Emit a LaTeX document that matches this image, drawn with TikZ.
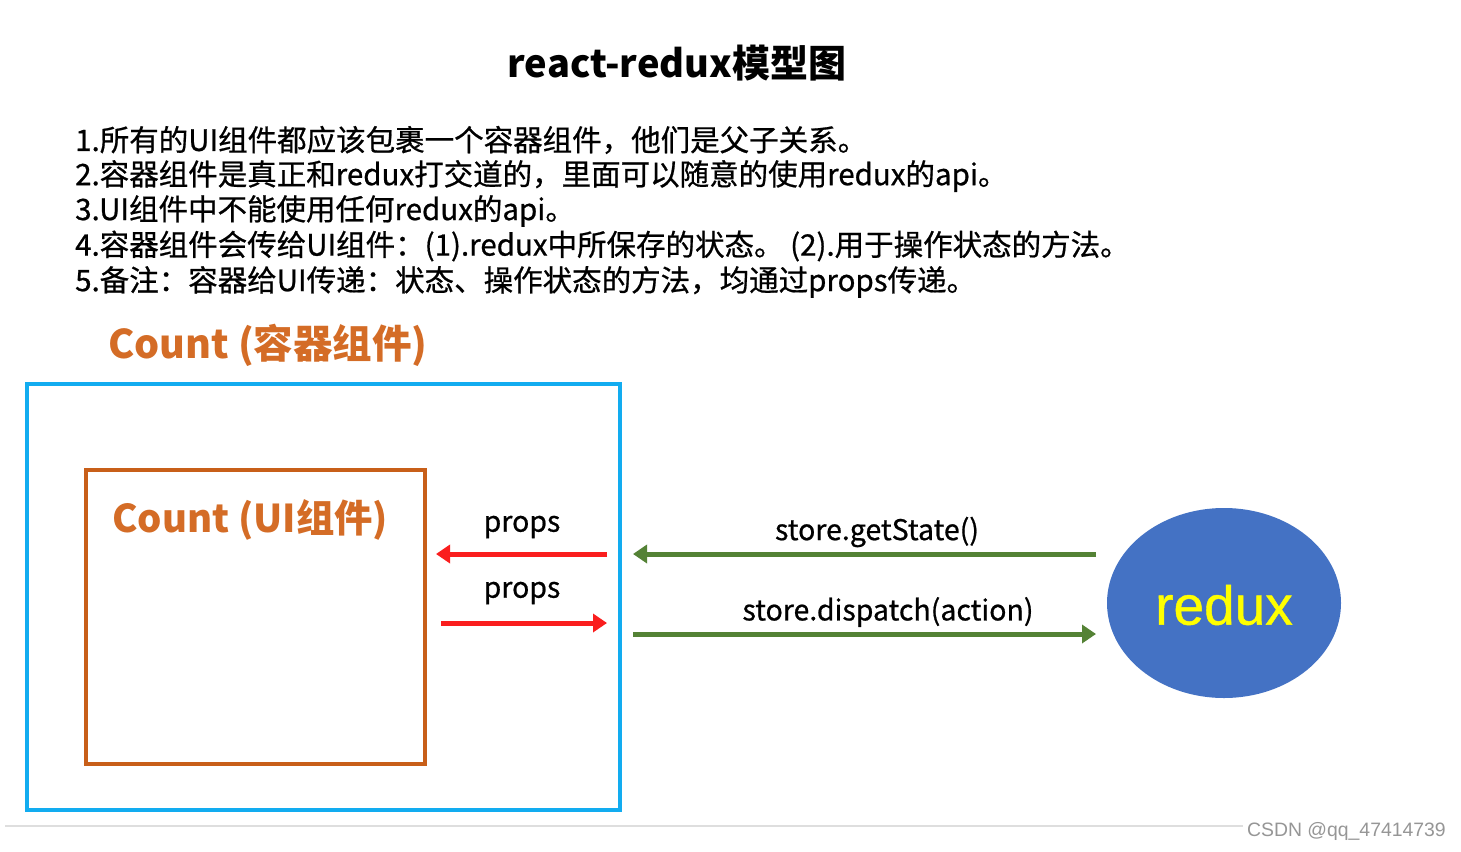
\documentclass[tikz,border=0pt]{standalone}
\usepackage{fontspec}
\setmainfont{Noto Sans CJK SC}
\newfontfamily\cjkfont{Noto Sans CJK SC}
\newfontfamily\cjkmed[FakeBold=0.7]{Noto Sans CJK SC}
\newfontfamily\arialfont{Liberation Sans}
\newfontfamily\arialmed[FakeBold=0.8]{Liberation Sans}
\usetikzlibrary{arrows.meta,shapes.geometric}
\definecolor{outerblue}{RGB}{18,172,240}
\definecolor{innerorange}{RGB}{200,95,25}
\definecolor{labelorange}{RGB}{212,108,38}
\definecolor{arrred}{RGB}{250,30,30}
\definecolor{arrgreen}{RGB}{84,130,53}
\definecolor{reduxblue}{RGB}{68,114,196}
\definecolor{reduxyellow}{RGB}{255,255,0}
\definecolor{wmgray}{RGB}{150,150,150}
\definecolor{rulegray}{RGB}{222,222,222}
\tikzset{
  listline/.style={anchor=west,inner sep=0pt,font=\cjkmed\fontsize{29.5}{32}\selectfont},
  boxlabel/.style={anchor=west,inner sep=0pt,text=labelorange,font=\cjkfont\bfseries\fontsize{39.5}{44}\selectfont},
  arrlabel/.style={inner sep=0pt,font=\cjkmed\fontsize{28.5}{31}\selectfont},
  redarrow/.style={draw=arrred,line width=5pt,-{Triangle[length=14pt,width=18pt]}},
  greenarrow/.style={draw=arrgreen,line width=5pt,-{Triangle[length=14pt,width=18pt]}},
}
\begin{document}
\begin{tikzpicture}[x=1pt,y=-1pt]
\useasboundingbox[fill=white] (0,0) rectangle (1461,851);
% title
\node[inner sep=0pt,font=\cjkfont\bfseries\fontsize{38}{42}\selectfont] (title) at (677,63) {react-redux模型图};
% list
\node[listline] (l1) at (75,140) {1.所有的UI组件都应该包裹一个容器组件，他们是父子关系。};
\node[listline] (l2) at (75,176) {2.容器组件是真正和redux打交道的，里面可以随意的使用redux的api。};
\node[listline] (l3) at (75,211) {3.UI组件中不能使用任何redux的api。};
\node[listline] (l4) at (75,246) {4.容器组件会传给UI组件：(1).redux中所保存的状态。 (2).用于操作状态的方法。};
\node[listline] (l5) at (75,282) {5.备注：容器给UI传递：状态、操作状态的方法，均通过props传递。};
% container
\node[boxlabel] (clabel) at (108,345) {Count (容器组件)};
\node[draw=outerblue,line width=4pt,minimum width=593pt,minimum height=426pt,inner sep=0pt] (outer) at (323.5,597) {};
\node[draw=innerorange,line width=4pt,minimum width=339pt,minimum height=294pt,inner sep=0pt] (inner) at (255.5,617) {};
\node[boxlabel,font=\cjkfont\bfseries\fontsize{38.3}{43}\selectfont] (uilabel) at (112,520) {Count (UI组件)};
% redux
\node[ellipse,fill=reduxblue,minimum width=234pt,minimum height=190pt,inner sep=0pt] (redux) at (1224,603) {};
\node[inner sep=0pt,text=reduxyellow,font=\arialmed\fontsize{55}{60}\selectfont] (reduxtext) at (1224,605) {redux};
% arrows
\coordinate (p1s) at (607,554);
\coordinate (p1e) at (436,554);
\coordinate (p2s) at (441,623);
\coordinate (p2e) at (607,623);
\coordinate (g1s) at (1096,554);
\coordinate (g1e) at (633,554);
\coordinate (g2s) at (633,634);
\coordinate (g2e) at (1096,634);
\draw[redarrow] (p1s) -- (p1e);
\draw[redarrow] (p2s) -- (p2e);
\draw[greenarrow] (g1s) -- (g1e);
\draw[greenarrow] (g2s) -- (g2e);
\node[arrlabel] (pl1) at (522,527) {props};
\node[arrlabel] (pl2) at (522,593) {props};
\node[arrlabel] (gl1) at (877,532) {store.getState()};
\node[arrlabel] (gl2) at (888,612) {store.dispatch(action)};
% footer
\coordinate (r1) at (5,826);
\coordinate (r2) at (1243,826);
\draw[rulegray,line width=2pt] (r1) -- (r2);
\node[anchor=east,inner sep=0pt,text=wmgray,font=\arialfont\fontsize{19.4}{21}\selectfont] (wm) at (1446,831) {CSDN @qq\_47414739};
\end{tikzpicture}
\end{document}
